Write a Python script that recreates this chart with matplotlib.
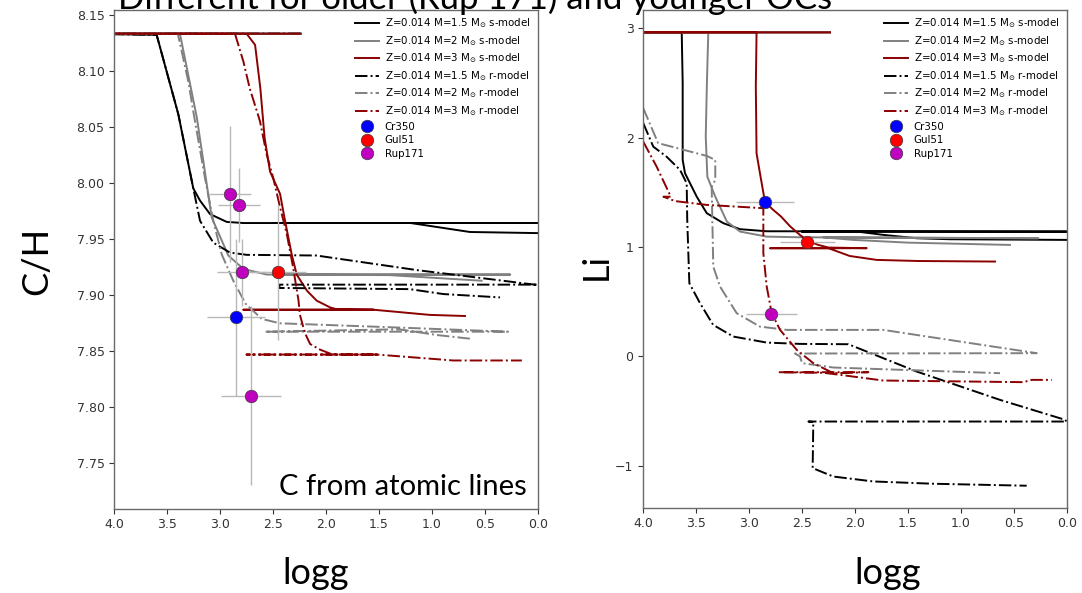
import matplotlib
matplotlib.use("Agg")
import matplotlib.pyplot as plt

# ---------------- data ----------------
MODEL_LABELS = [
    r"Z=0.014 M=1.5 M$_{\odot}$ s-model",
    r"Z=0.014 M=2 M$_{\odot}$ s-model",
    r"Z=0.014 M=3 M$_{\odot}$ s-model",
    r"Z=0.014 M=1.5 M$_{\odot}$ r-model",
    r"Z=0.014 M=2 M$_{\odot}$ r-model",
    r"Z=0.014 M=3 M$_{\odot}$ r-model",
]
CLUSTERS = ["Cr350", "Gul51", "Rup171"]

# C/H tracks (logg, C/H)
CH_S15_LOGG = [2.24, 4.3, 3.60, 3.395, 3.254, 3.19, 3.096, 2.938, 2.78, 0.0, 2.5, 1.2, 0.64, 0.0]
CH_S15 = [8.133, 8.133, 8.132, 8.061, 7.995, 7.984, 7.972, 7.965, 7.964, 7.964, 7.964, 7.964, 7.956, 7.955]
CH_S2_LOGG = [2.24, 4.3, 3.38, 3.22, 3.08, 2.923, 2.78, 2.56, 0.26, 2.5, 1.40, 0.53]
CH_S2 = [8.133, 8.133, 8.133, 8.058, 7.969, 7.935, 7.923, 7.918, 7.918, 7.918, 7.9175, 7.9125]
CH_S3_LOGG = [2.24, 4.3, 2.75, 2.67, 2.62, 2.58, 2.529, 2.434, 2.387, 2.324, 2.277, 2.18,
              2.088, 1.962, 1.90, 1.55, 2.78, 1.55, 1.02, 0.687]
CH_S3 = [8.133, 8.133, 8.133, 8.123, 8.084, 8.04, 8.010, 7.990, 7.966, 7.936, 7.918, 7.9036,
         7.8947, 7.8887, 7.887, 7.8866, 7.8866, 7.8866, 7.882, 7.881]
CH_R15_LOGG = [2.24, 4.3, 3.60, 3.395, 3.254, 3.19, 3.065, 2.907, 2.749, 2.09, 1.143, 0.03,
               0.0, 2.44, 2.44, 2.40, 1.21, 0.892, 0.356]
CH_R15 = [8.133, 8.133, 8.132, 8.061, 7.995, 7.966, 7.9465, 7.9376, 7.9356, 7.935, 7.922, 7.909,
          7.909, 7.909, 7.906, 7.906, 7.905, 7.9006, 7.8976]
CH_R2_LOGG = [2.24, 4.3, 3.40, 3.30, 3.254, 3.143, 3.065, 2.985, 2.876, 2.76, 2.607, 2.435,
              1.40, 0.28, 2.576, 1.40, 1.30, 0.95, 0.624]
CH_R2 = [8.133, 8.133, 8.133, 8.09, 8.0637, 8.004, 7.966, 7.936, 7.9125, 7.892, 7.8784, 7.8745,
         7.871, 7.867, 7.867, 7.869, 7.869, 7.864, 7.8606]
CH_R3_LOGG = [2.24, 4.3, 2.86, 2.78, 2.72, 2.624, 2.56, 2.498, 2.434, 2.37, 2.31, 2.26, 2.246,
              2.20, 2.15, 2.057, 1.962, 1.90, 1.52, 2.75, 1.52, 0.797, 0.15]
CH_R3 = [8.133, 8.133, 8.133, 8.108, 8.084, 8.055, 8.025, 8.004, 7.978, 7.954, 7.924, 7.895, 7.882,
         7.866, 7.856, 7.851, 7.8475, 7.8466, 7.8466, 7.8466, 7.8466, 7.8413, 7.8413]

# Li tracks (logg, Li)
LI_S15_LOGG = [2.236, 4.3, 3.637, 3.628, 3.628, 3.606, 3.495, 3.40, 3.244, 3.086, 2.834, 0.0,
               2.5, 1.98, 1.733, 1.417, 1.10, 0.0]
LI_S15 = [2.963, 2.963, 2.963, 2.5, 1.796, 1.675, 1.46, 1.309, 1.218, 1.163, 1.144, 1.141,
          1.141, 1.141, 1.111, 1.08, 1.071, 1.065]
LI_S2_LOGG = [2.236, 4.3, 3.386, 3.40, 3.41, 3.395, 3.32, 3.21, 3.086, 2.834, 2.52, 0.268,
              2.3, 2.016, 1.5, 0.536]
LI_S2 = [2.963, 2.963, 2.963, 2.466, 2.009, 1.643, 1.46, 1.232, 1.141, 1.095, 1.089, 1.08,
         1.088, 1.065, 1.04, 1.019]
LI_S3_LOGG = [2.236, 4.3, 2.93, 2.937, 2.93, 2.898, 2.85, 2.772, 2.70, 2.614, 2.52, 2.45, 2.35,
              2.25, 1.89, 2.80, 2.25, 2.205, 2.05, 1.795, 1.4, 0.677]
LI_S3 = [2.963, 2.963, 2.963, 2.466, 1.857, 1.675, 1.41, 1.339, 1.28, 1.19, 1.11, 1.06, 1.02,
         0.995, 0.989, 0.989, 0.989, 0.973, 0.918, 0.882, 0.872, 0.867]
LI_R15_LOGG = [4.0, 3.906, 3.78, 3.653, 3.59, 3.585, 3.565, 3.464, 3.34, 3.15, 2.834, 2.52,
               2.063, 1.417, 0.63, 0.016, 0.0, 2.44, 2.394, 2.40, 2.205, 1.827, 1.26, 0.378]
LI_R15 = [2.132, 1.918, 1.826, 1.705, 1.583, 1.248, 0.669, 0.486, 0.288, 0.181, 0.126, 0.114,
          0.111, -0.139, -0.398, -0.58, -0.596, -0.596, -0.60, -1.022, -1.099, -1.144, -1.165, -1.183]
LI_R2_LOGG = [4.0, 3.86, 3.40, 3.32, 3.32, 3.354, 3.339, 3.275, 3.118, 2.898, 2.645, 1.733,
              0.283, 2.567, 2.52, 2.50, 2.205, 0.63]
LI_R2 = [2.269, 1.95, 1.833, 1.796, 1.613, 1.552, 0.821, 0.638, 0.395, 0.272, 0.242, 0.242,
         0.029, 0.026, 0.0, -0.062, -0.102, -0.154]
LI_R3_LOGG = [4.0, 3.874, 3.74, 3.81, 3.70, 3.40, 2.866, 2.866, 2.834, 2.787, 2.708, 2.55,
              2.394, 2.205, 1.874, 2.725, 2.3, 2.142, 1.733, 0.41, 0.33, 0.142]
LI_R3 = [1.963, 1.735, 1.46, 1.46, 1.42, 1.385, 1.355, 0.943, 0.638, 0.395, 0.242, 0.059,
         -0.062, -0.154, -0.145, -0.145, -0.15, -0.169, -0.221, -0.236, -0.215, -0.215]

# Observed clusters, C/H panel
CR350_CH_LOGG, CR350_CH, CR350_CH_XERR, CR350_CH_YERR = [2.85], [7.88], [0.27], [0.07]
GUL51_CH_LOGG, GUL51_CH, GUL51_CH_XERR, GUL51_CH_YERR = [2.45], [7.92], [0.26], [0.06]
RUP171_CH_LOGG = [2.91, 2.82, 2.79, 2.71]
RUP171_CH = [7.99, 7.98, 7.92, 7.81]
RUP171_CH_XERR = [0.20, 0.20, 0.24, 0.285]
RUP171_CH_YERR = [0.061, 0.033, 0.03, 0.08]

# Observed clusters, Li panel
CR350_LI_LOGG, CR350_LI, CR350_LI_XERR = [2.85], [1.41], [0.27]
GUL51_LI_LOGG, GUL51_LI, GUL51_LI_XERR = [2.45], [1.05], [0.26]
RUP171_LI_LOGG, RUP171_LI, RUP171_LI_XERR = [2.79], [0.39], [0.24]

CH_TICKS = [7.75, 7.80, 7.85, 7.90, 7.95, 8.00, 8.05, 8.10, 8.15]
LI_TICKS = [-1, 0, 1, 2, 3]
LOGG_TICKS = [4.0, 3.5, 3.0, 2.5, 2.0, 1.5, 1.0, 0.5, 0.0]

# ---------------- styling ----------------
MODEL_COLORS = ["black", "gray", "#8b0000", "black", "gray", "#8b0000"]
MODEL_STYLES = ["-", "-", "-", "-.", "-.", "-."]
CLUSTER_COLORS = ["#0000ff", "#ff0000", "#bf00bf"]
ERR_COLOR = "#b8b8b8"
SPINE_COLOR = "#6a6a6a"
SLIDE_FONT = ["Lato", "DejaVu Sans"]

W, H = 1082, 593
fig = plt.figure(figsize=(W / 100, H / 100), dpi=100)
fig.patch.set_facecolor("white")


def frac_box(x0, x1, ytop, ybot):
    return [x0 / W, (H - ybot) / H, (x1 - x0) / W, (ybot - ytop) / H]


ax1 = fig.add_axes(frac_box(114.3, 537.7, 9.5, 508.7))
ax2 = fig.add_axes(frac_box(643.3, 1066.7, 9.5, 507.7))

ch_tracks = [(CH_S15_LOGG, CH_S15), (CH_S2_LOGG, CH_S2), (CH_S3_LOGG, CH_S3),
             (CH_R15_LOGG, CH_R15), (CH_R2_LOGG, CH_R2), (CH_R3_LOGG, CH_R3)]
li_tracks = [(LI_S15_LOGG, LI_S15), (LI_S2_LOGG, LI_S2), (LI_S3_LOGG, LI_S3),
             (LI_R15_LOGG, LI_R15), (LI_R2_LOGG, LI_R2), (LI_R3_LOGG, LI_R3)]


def draw_panel(ax, tracks, obs, ylim, yticks, yfmt):
    for (xs, ys), lab, col, ls in zip(tracks, MODEL_LABELS, MODEL_COLORS, MODEL_STYLES):
        ax.plot(xs, ys, ls=ls, color=col, lw=1.4, label=lab, zorder=2)
    for (xs, ys, xe, ye), name, col in zip(obs, CLUSTERS, CLUSTER_COLORS):
        ax.errorbar(xs, ys, xerr=xe, yerr=ye, fmt="none", ecolor=ERR_COLOR,
                    elinewidth=1.0, zorder=3)
        ax.plot(xs, ys, "o", ms=9, mfc=col, mec="#3a3a3a", mew=0.5, label=name,
                zorder=4, ls="none")
    ax.set_xlim(4.0, 0.0)
    ax.set_ylim(*ylim)
    ax.set_xticks(LOGG_TICKS)
    ax.set_xticklabels([f"{v:.1f}" for v in LOGG_TICKS])
    ax.set_yticks(yticks)
    ax.set_yticklabels([yfmt(v) for v in yticks])
    ax.tick_params(labelsize=9, colors="#333333", length=3.5, width=0.8)
    for sp in ax.spines.values():
        sp.set_color(SPINE_COLOR)
        sp.set_linewidth(1.0)
    leg = ax.legend(loc="upper right", bbox_to_anchor=(1.0, 1.0), fontsize=7.4,
                    frameon=True, framealpha=1.0, edgecolor="white",
                    labelspacing=0.36, handlelength=2.3, handletextpad=0.6,
                    borderpad=0.35, borderaxespad=0.35)
    leg.set_zorder(5)


draw_panel(ax1, ch_tracks,
           [(CR350_CH_LOGG, CR350_CH, CR350_CH_XERR, CR350_CH_YERR),
            (GUL51_CH_LOGG, GUL51_CH, GUL51_CH_XERR, GUL51_CH_YERR),
            (RUP171_CH_LOGG, RUP171_CH, RUP171_CH_XERR, RUP171_CH_YERR)],
           (7.709, 8.1546), CH_TICKS, lambda v: f"{v:.2f}")
draw_panel(ax2, li_tracks,
           [(CR350_LI_LOGG, CR350_LI, CR350_LI_XERR, None),
            (GUL51_LI_LOGG, GUL51_LI, GUL51_LI_XERR, None),
            (RUP171_LI_LOGG, RUP171_LI, RUP171_LI_XERR, None)],
           (-1.384, 3.172), LI_TICKS, lambda v: f"{v:d}".replace("-", "\u2212"))

# slide-level text
fig.text(118 / W, 1 - 9 / H, "Different for older (Rup 171) and younger OCs",
         family=SLIDE_FONT, fontsize=25, ha="left", va="baseline")
fig.text(37 / W, 1 - 261 / H, "C/H", family=SLIDE_FONT, fontsize=26,
         rotation=90, ha="center", va="center")
fig.text(596 / W, 1 - 266 / H, "Li", family=SLIDE_FONT, fontsize=26,
         rotation=90, ha="center", va="center")
fig.text(316 / W, 1 - 584 / H, "logg", family=SLIDE_FONT, fontsize=26,
         ha="center", va="baseline")
fig.text(888 / W, 1 - 584 / H, "logg", family=SLIDE_FONT, fontsize=26,
         ha="center", va="baseline")
ax1.text(527 / W, 1 - 495 / H, "C from atomic lines", transform=fig.transFigure,
         family=SLIDE_FONT, fontsize=21, ha="right", va="baseline", zorder=6)

fig.savefig("out.png", dpi=100, facecolor="white")
